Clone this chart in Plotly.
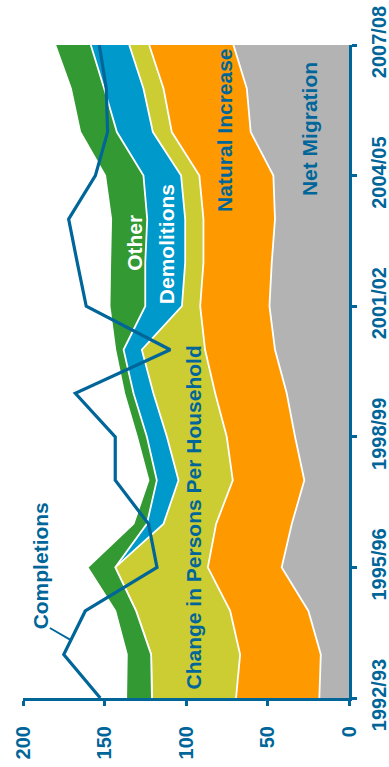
import plotly.graph_objects as go

# Household growth components by year (thousands), stacked from zero outward
years = ["1992/93", "1993/94", "1994/95", "1995/96", "1996/97", "1997/98",
         "1998/99", "1999/00", "2000/01", "2001/02", "2002/03", "2003/04",
         "2004/05", "2005/06", "2006/07", "2007/08"]

net_migration = [18.2, 17.3, 24.9, 41.3, 35.1, 27.4, 33.1, 38.2,
                 45.4, 48.8, 47.4, 45.4, 46.4, 60.3, 62.7, 70.9]
natural_increase = [51.1, 49.5, 48.0, 45.3, 46.4, 43.9, 41.9, 43.9,
                    42.9, 42.5, 41.9, 43.9, 45.4, 48.4, 51.1, 51.7]
persons_per_household = [51.6, 54.6, 57.7, 56.8, 32.3, 33.3, 36.7, 37.9,
                         38.8, 11.2, 11.2, 11.2, 11.2, 11.6, 12.3, 12.2]
demolitions = [0, 0, 0, 0, 10.2, 13.3, 12.3, 12.2,
               11.2, 22.5, 24.5, 23.3, 23.1, 22.1, 24.1, 23.6]
other = [15.8, 14.9, 12.8, 17.0, 8.2, 5.1, 6.1, 5.7,
         5.1, 21.9, 21.5, 22.1, 23.5, 22.5, 20.4, 21.8]
completions = [152.6, 175.0, 161.8, 117.8, 123.0, 143.4, 143.4, 167.9,
               109.7, 161.2, 166.7, 172.0, 155.6, 148.1, 148.9, 153.2]

value_ticks = [0, 50, 100, 150, 200]
year_tick_step = 3

DARK_BLUE = "#006699"
FONT = "Liberation Sans, Arial, sans-serif"

pos = list(range(len(years)))

layers = [
    ("Net Migration", net_migration, "#B3B3B3"),
    ("Natural Increase", natural_increase, "#FF9900"),
    ("Change in Persons Per Household", persons_per_household, "#CCCC33"),
    ("Demolitions", demolitions, "#0099CC"),
    ("Other", other, "#339933"),
]

fig = go.Figure()
for name, vals, color in layers:
    fig.add_trace(go.Scatter(
        x=vals, y=pos, name=name, mode="lines",
        stackgroup="growth", orientation="h",
        line=dict(color="white", width=1.8),
        fillcolor=color, hoverinfo="skip",
    ))

fig.add_trace(go.Scatter(
    x=completions, y=pos, name="Completions", mode="lines",
    line=dict(color=DARK_BLUE, width=3.2), hoverinfo="skip",
))

# In-chart series labels, rotated to run along the year axis
labels = [
    ("Net Migration", 24.5, 13.07, DARK_BLUE),
    ("Natural Increase", 76.0, 13.03, DARK_BLUE),
    ("Change in Persons Per Household", 95.6, 4.15, DARK_BLUE),
    ("Demolitions", 111.5, 10.43, "white"),
    ("Other", 131.8, 10.46, "white"),
    ("Completions", 189.4, 3.03, DARK_BLUE),
]
for text, xv, yv, col in labels:
    fig.add_annotation(
        x=xv, y=yv, text=text, showarrow=False, textangle=-90,
        font=dict(family=FONT, size=21, color=col, weight="bold"),
        xanchor="center", yanchor="middle",
    )

# Leader from the "Completions" label to its line
frac = 0.33
tip_x = completions[1] + (completions[2] - completions[1]) * frac
fig.add_shape(type="line", x0=183.5, y0=1.61, x1=tip_x, y1=1 + frac,
              line=dict(color=DARK_BLUE, width=1.8))

fig.update_layout(
    width=389, height=767,
    margin=dict(l=23, r=40, t=45, b=69),
    paper_bgcolor="white", plot_bgcolor="white",
    showlegend=False,
    font=dict(family=FONT, color=DARK_BLUE),
    xaxis=dict(
        range=[200, 0], tickvals=value_ticks, automargin=False,
        showgrid=False, zeroline=False,
        showline=True, linecolor=DARK_BLUE, linewidth=3,
        ticks="outside", ticklen=5, tickwidth=3, tickcolor=DARK_BLUE,
        tickangle=-90, ticklabelstandoff=12,
        tickfont=dict(family=FONT, size=20, color=DARK_BLUE, weight="bold"),
    ),
    yaxis=dict(
        range=[0, len(years) - 1], side="right", automargin=False,
        tickvals=pos[::year_tick_step], ticktext=years[::year_tick_step],
        showgrid=False, zeroline=False,
        showline=True, linecolor=DARK_BLUE, linewidth=3,
        ticks="outside", ticklen=5, tickwidth=3, tickcolor=DARK_BLUE,
        tickangle=-90, ticklabelstandoff=5,
        tickfont=dict(family=FONT, size=20, color=DARK_BLUE, weight="bold"),
    ),
)

fig.write_html("out.html")
